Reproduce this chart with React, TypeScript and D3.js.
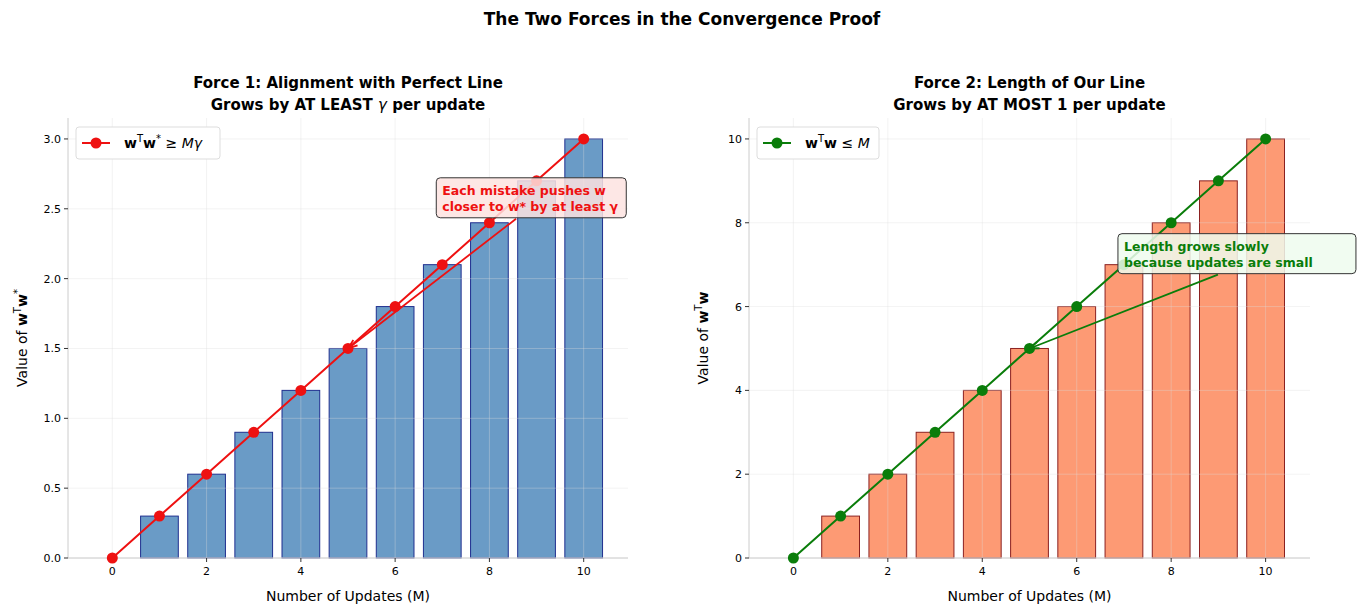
import React from 'react';
import * as d3 from 'd3';

const updates = [0, 1, 2, 3, 4, 5, 6, 7, 8, 9, 10];
const alignment = [0, 0.3, 0.6, 0.9, 1.2, 1.5, 1.8, 2.1, 2.4, 2.7, 3.0];
const lengthSq = [0, 1, 2, 3, 4, 5, 6, 7, 8, 9, 10];
const xTicks = [0, 2, 4, 6, 8, 10];
const yTicksLeft = [0, 0.5, 1.0, 1.5, 2.0, 2.5, 3.0];
const yTicksRight = [0, 2, 4, 6, 8, 10];

const FONT = 'DejaVu Sans, sans-serif';

interface PanelProps {
  left: number;
  right: number;
  values: number[];
  yMax: number;
  yTicks: number[];
  yFmt: (v: number) => string;
  barFill: string;
  barStroke: string;
  lineColor: string;
  title1: React.ReactNode;
  title2: React.ReactNode;
  yLabel: React.ReactNode;
  legend: React.ReactNode;
  legendW: number;
  note: string[];
  noteAt: [number, number];
  noteTarget: [number, number];
  noteW: number;
  noteBg: string;
}

function Panel(p: PanelProps) {
  const top = 118, bottom = 558;
  const x = d3.scaleLinear().domain([-0.94, 10.94]).range([p.left, p.right]);
  const y = d3.scaleLinear().domain([0, p.yMax]).range([bottom, top]);
  const bw = x(0.8) - x(0);
  const line = d3.line<number>().x((_, i) => x(updates[i])).y(d => y(d));
  const cx = (p.left + p.right) / 2;
  const nx = x(p.noteAt[0]) - 6, ny = y(p.noteAt[1]);
  const tx = x(p.noteTarget[0]), ty = y(p.noteTarget[1]);
  const sx = nx + p.noteW * 0.42, sy = ny + 10;
  const ang = Math.atan2(ty - sy, tx - sx);
  const ah = 10;
  return (
    <g>
      {updates.map((u, i) => (
        <rect key={i} x={x(u) - bw / 2} y={y(p.values[i])} width={bw}
          height={bottom - y(p.values[i])} fill={p.barFill} stroke={p.barStroke} strokeWidth={1} />
      ))}
      {xTicks.map(t => (
        <line key={'gx' + t} x1={x(t)} x2={x(t)} y1={top} y2={bottom} stroke="#ddd" strokeOpacity={0.35} />
      ))}
      {p.yTicks.map(t => (
        <line key={'gy' + t} x1={p.left} x2={p.right} y1={y(t)} y2={y(t)} stroke="#ddd" strokeOpacity={0.35} />
      ))}
      <line x1={p.left} x2={p.left} y1={top} y2={bottom} stroke="#ccc" />
      <line x1={p.left} x2={p.right} y1={bottom} y2={bottom} stroke="#ccc" />
      {xTicks.map(t => (
        <g key={'tx' + t}>
          <line x1={x(t)} x2={x(t)} y1={bottom} y2={bottom + 4} stroke="#333" />
          <text x={x(t)} y={bottom + 17} textAnchor="middle" fontSize={11}>{t}</text>
        </g>
      ))}
      {p.yTicks.map(t => (
        <g key={'ty' + t}>
          <line x1={p.left - 4} x2={p.left} y1={y(t)} y2={y(t)} stroke="#333" />
          <text x={p.left - 7} y={y(t) + 4} textAnchor="end" fontSize={11}>{p.yFmt(t)}</text>
        </g>
      ))}
      <path d={line(p.values) || ''} fill="none" stroke={p.lineColor} strokeWidth={2} />
      {updates.map((u, i) => (
        <circle key={'c' + i} cx={x(u)} cy={y(p.values[i])} r={5.5} fill={p.lineColor} />
      ))}
      <line x1={sx} y1={sy} x2={tx} y2={ty} stroke={p.lineColor} strokeWidth={1.8} />
      <path d={`M${tx},${ty} L${tx - ah * Math.cos(ang - 0.35)},${ty - ah * Math.sin(ang - 0.35)} M${tx},${ty} L${tx - ah * Math.cos(ang + 0.35)},${ty - ah * Math.sin(ang + 0.35)}`}
        stroke={p.lineColor} strokeWidth={1.8} fill="none" />
      <rect x={nx} y={ny - 31} width={p.noteW} height={40} rx={4} fill={p.noteBg} fillOpacity={0.85} stroke="#333" />
      {p.note.map((s, i) => (
        <text key={s} x={nx + 6} y={ny - 14 + i * 16} fontSize={12.5} fontWeight="bold" fill={p.lineColor}>{s}</text>
      ))}
      <rect x={p.left + 8} y={top + 9} width={p.legendW} height={32} rx={3} fill="#fff" stroke="#ddd" />
      <line x1={p.left + 14} x2={p.left + 42} y1={top + 25} y2={top + 25} stroke={p.lineColor} strokeWidth={2} />
      <circle cx={p.left + 28} cy={top + 25} r={5.5} fill={p.lineColor} />
      <text x={p.left + 56} y={top + 30} fontSize={14}>{p.legend}</text>
      <text x={cx} y={88} textAnchor="middle" fontSize={15} fontWeight="bold">{p.title1}</text>
      <text x={cx} y={110} textAnchor="middle" fontSize={15} fontWeight="bold">{p.title2}</text>
      <text x={cx} y={601} textAnchor="middle" fontSize={14}>Number of Updates (M)</text>
      <text transform={`translate(${p.left - 41},${(top + bottom) / 2}) rotate(-90)`} textAnchor="middle" fontSize={14}>{p.yLabel}</text>
    </g>
  );
}

export default function App() {
  return (
    <svg width={1364} height={615} style={{ position: 'absolute', left: 0, top: 0, background: '#fff' }} fontFamily={FONT}>
      <text x={682} y={25} textAnchor="middle" fontSize={17} fontWeight="bold">The Two Forces in the Convergence Proof</text>
      <Panel left={68} right={628} values={alignment} yMax={3.15} yTicks={yTicksLeft}
        yFmt={v => v.toFixed(1)} barFill="#6a9bc6" barStroke="#1f2f8f" lineColor="#ee1111"
        title1="Force 1: Alignment with Perfect Line"
        title2={<>Grows by AT LEAST <tspan fontStyle="italic" fontWeight="normal">γ</tspan> per update</>}
        yLabel={<>Value of <tspan fontWeight="bold">w</tspan><tspan dy={-6} fontSize={10}>T</tspan><tspan dy={6} fontWeight="bold">w</tspan><tspan dy={-6} fontSize={10}>*</tspan></>}
        legend={<><tspan fontWeight="bold">w</tspan><tspan dy={-6} fontSize={10}>T</tspan><tspan dy={6} fontWeight="bold">w</tspan><tspan dy={-6} fontSize={10}>*</tspan><tspan dy={6}> ≥ </tspan><tspan fontStyle="italic">Mγ</tspan></>}
        legendW={144}
        note={['Each mistake pushes w', 'closer to w* by at least γ']} noteAt={[7, 2.5]} noteTarget={[5, 1.5]}
        noteW={190} noteBg="#fde3e0" />
      <Panel left={749} right={1310} values={lengthSq} yMax={10.5} yTicks={yTicksRight}
        yFmt={v => String(v)} barFill="#fd9a74" barStroke="#8b2020" lineColor="#0a7d0a"
        title1="Force 2: Length of Our Line"
        title2="Grows by AT MOST 1 per update"
        yLabel={<>Value of <tspan fontWeight="bold">w</tspan><tspan dy={-6} fontSize={10}>T</tspan><tspan dy={6} fontWeight="bold">w</tspan></>}
        legend={<><tspan fontWeight="bold">w</tspan><tspan dy={-6} fontSize={10}>T</tspan><tspan dy={6} fontWeight="bold">w</tspan><tspan> ≤ </tspan><tspan fontStyle="italic">M</tspan></>}
        legendW={122}
        note={['Length grows slowly', 'because updates are small']} noteAt={[7, 7]} noteTarget={[5, 5]}
        noteW={238} noteBg="#eefcee" />
    </svg>
  );
}
